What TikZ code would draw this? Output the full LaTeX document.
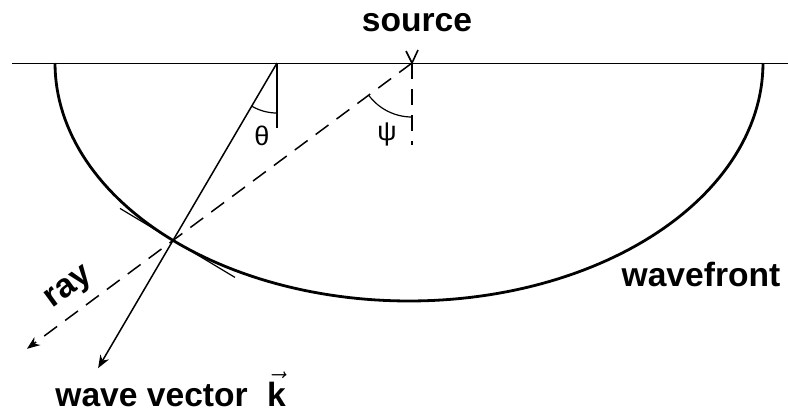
\documentclass[tikz,border=0pt]{standalone}
\usepackage{amsmath}
\usepackage{fontspec}
\setmainfont{Liberation Sans}
\usetikzlibrary{arrows.meta, calc}

\begin{document}
\begin{tikzpicture}[x=0.5pt, y=-0.5pt,
    rotulo/.style={font=\bfseries\fontsize{16.8}{20}\selectfont},
    angulo/.style={font=\fontsize{13.5}{16}\selectfont},
    tracejado/.style={line width=0.75pt, dash pattern=on 8pt off 5pt},
    seta/.style={-{Stealth[length=6.5pt, width=5pt]}}]
  \useasboundingbox (0,0) rectangle (788,409);
  % superficie e fonte
  \coordinate (sup0) at (12,63);
  \coordinate (sup1) at (788,63);
  \coordinate (src) at (412,63);
  \coordinate (topo) at (277,63);
  \draw[line width=0.5pt] (sup0) -- (sup1);
  \draw[line width=0.8pt] (src) -- ++(-6,-12);
  \draw[line width=0.8pt] (src) -- ++(6,-13);
  \node[rotulo] (fonte) at (417,23) {source};
  % frente de onda
  \draw[line width=1.4pt] plot[domain=180:360, samples=120]
    ({409+354*cos(\x)}, {63-238*sin(\x)});
  \node[rotulo] (frente) at (701,274) {wavefront};
  % raio e vetor de onda
  \coordinate (hit) at (173,240.4);
  \coordinate (rayend) at ($(src)!1.611!(hit)$);
  \coordinate (kend) at ($(topo)!1.72!(hit)$);
  \draw[tracejado, seta] (src) -- (rayend);
  \draw[line width=0.75pt, seta] (topo) -- (kend);
  \draw[line width=0.6pt] ($(hit)+(-53,-32)$) -- ($(hit)+(62,37)$);
  \node[rotulo, rotate=36] (raio) at (70,289) {ray};
  \node[rotulo, anchor=base west, inner sep=0pt] (vetor) at (55,406)
    {wave vector\hspace{0.3em} $\vec{\mbox{k}}$};
  % angulos
  \draw[line width=0.6pt] (topo) -- ++(0,65);
  \draw[line width=0.6pt] (topo) ++(120.4:50) arc[start angle=120.4, end angle=90, radius=50];
  \node[angulo] (theta) at (262,136) {θ};
  \draw[tracejado] (src) -- ++(0,82);
  \draw[line width=0.6pt] (src) ++(143.4:54) arc[start angle=143.4, end angle=90, radius=54];
  \node[angulo] (psi) at (387,134) {ψ};
\end{tikzpicture}
\end{document}
